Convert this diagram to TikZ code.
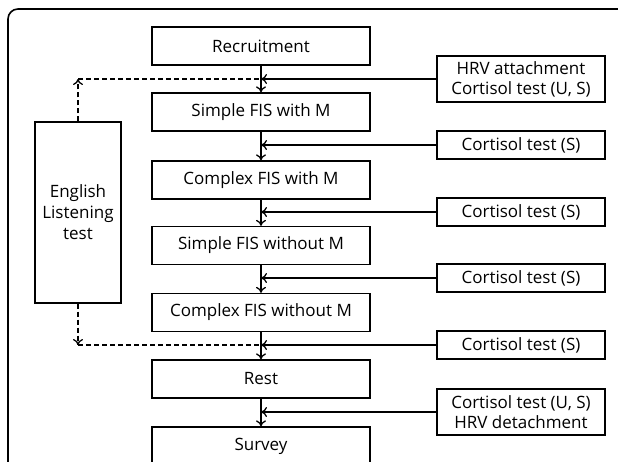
\documentclass[tikz,border=0pt]{standalone}
\usepackage{fontspec}
\setmainfont{Open Sans}
\usetikzlibrary{arrows.meta}
\begin{document}
\begin{tikzpicture}[x=1pt,y=-1pt,line width=1.3pt,
  stepbox/.style={draw,minimum width=218pt,minimum height=38pt,inner sep=0pt,font=\fontsize{17}{20}\selectfont},
  testbox/.style={draw,minimum width=168pt,minimum height=28pt,inner sep=0pt,align=center,font=\fontsize{17}{20}\selectfont},
  flow/.style={-{To[length=6pt,width=10pt]}},
  side/.style={dashed,dash pattern=on 5pt off 3pt}]
\clip (0,0) rectangle (618,461);
% outer frame
\draw[line width=1.6pt,rounded corners=10pt] (620,9) -- (8,9) -- (8,470);
% main steps
\node[stepbox] (rec) at (261,46) {Recruitment};
\node[stepbox] (sfm) at (261,112) {Simple FIS with M};
\node[stepbox] (cfm) at (261,180) {Complex FIS with M};
\node[stepbox] (sfo) at (261,245.5) {Simple FIS without M};
\node[stepbox] (cfo) at (261,312.5) {Complex FIS without M};
\node[stepbox] (rst) at (261,379) {Rest};
\node[stepbox] (srv) at (261,446) {Survey};
\foreach \a/\b in {rec/sfm,sfm/cfm,cfm/sfo,sfo/cfo,cfo/rst,rst/srv}
  \draw[flow] (\a.south) -- (\b.north);
% tests on the right
\node[testbox,minimum height=46pt] (t1) at (521,79) {HRV attachment\\Cortisol test (U, S)};
\node[testbox] (t2) at (521,145) {Cortisol test (S)};
\node[testbox] (t3) at (521,212) {Cortisol test (S)};
\node[testbox] (t4) at (521,278) {Cortisol test (S)};
\node[testbox] (t5) at (521,345) {Cortisol test (S)};
\node[testbox,minimum height=46pt] (t6) at (521,412) {Cortisol test (U, S)\\HRV detachment};
\foreach \t in {t1,t2,t3,t4,t5,t6}
  \draw[flow] (\t.west) -- (\t.west -| rec.south);
% english test, dashed
\node[draw,minimum width=86pt,minimum height=181pt,inner sep=0pt,align=center,
  font=\fontsize{17}{21}\selectfont] (eng) at (78,212.5) {English\\Listening\\test};
\coordinate (up) at (78,79);
\coordinate (dn) at (78,345);
\draw[side,flow] (eng.north) -- (up);
\draw[side] (up) -- (up -| rec.south);
\draw[side,flow] (eng.south) -- (dn);
\draw[side] (dn) -- (dn -| rec.south);
\end{tikzpicture}
\end{document}
